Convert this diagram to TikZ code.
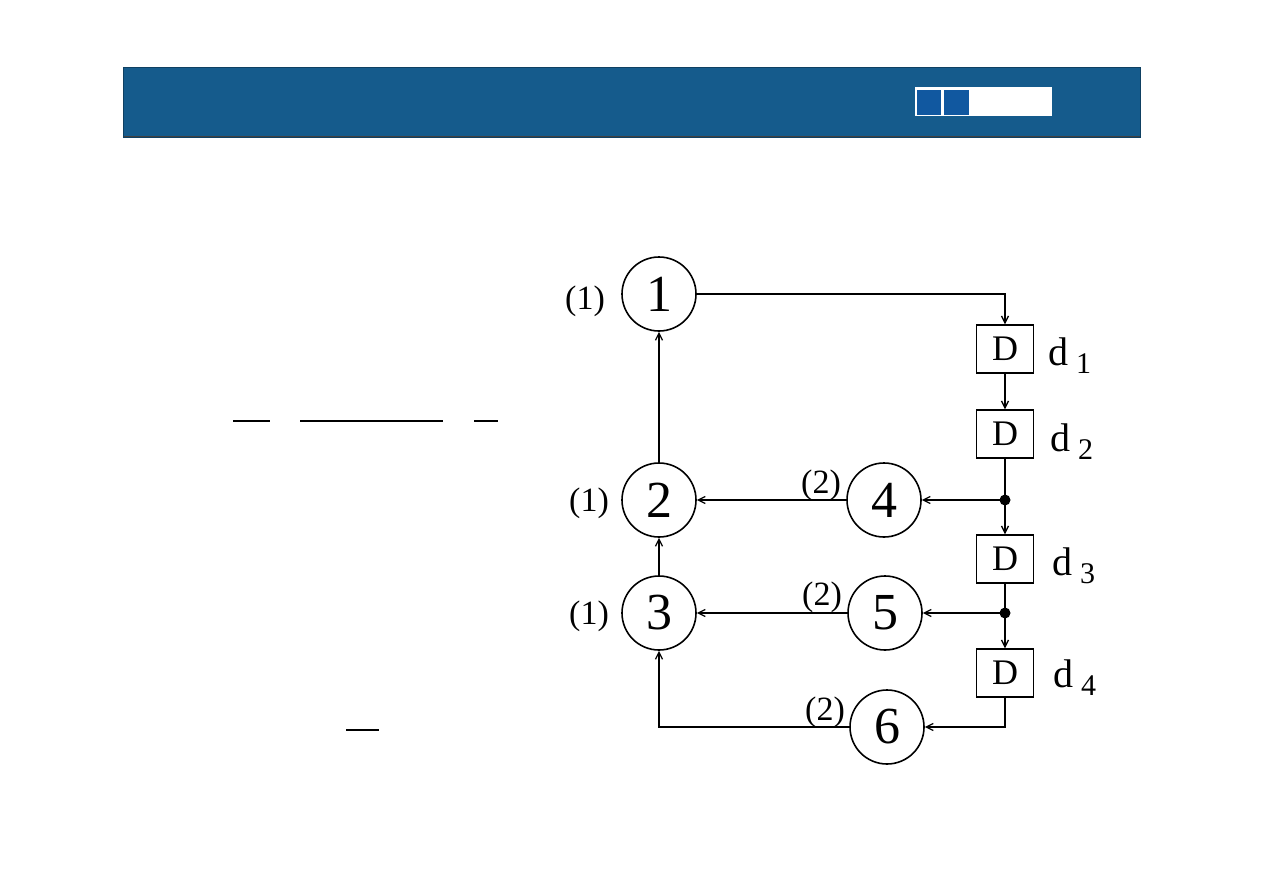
\documentclass[tikz,border=0pt]{standalone}
\usepackage{fontspec}
\setmainfont{Liberation Serif}
\usetikzlibrary{arrows.meta}
\definecolor{hdr}{HTML}{155B8C}
\definecolor{sq}{HTML}{1158A0}
\tikzset{
  num/.style={draw, circle, line width=1.6pt, minimum size=74pt, inner sep=0pt, font=\fontsize{52}{52}\selectfont},
  dbox/.style={draw, line width=1.3pt, minimum width=57pt, minimum height=48pt, inner sep=0pt, font=\fontsize{36}{36}\selectfont},
  lbl/.style={font=\fontsize{34}{34}\selectfont, inner sep=0pt},
  dl/.style={font=\fontsize{40}{40}\selectfont, inner sep=0pt, anchor=west},
  conn/.style={line width=1.3pt, -{Straight Barb[length=7pt,width=7pt]}},
  plain/.style={line width=1.3pt},
  dot/.style={circle, fill=black, minimum size=11pt, inner sep=0pt},
  frac/.style={line width=1.6pt}
}
\newcommand{\dlab}[1]{d\kern8pt\raisebox{-8pt}{\fontsize{30}{30}\selectfont #1}}
\begin{document}
\begin{tikzpicture}[x=1pt,y=-1pt]
\useasboundingbox (0,0) rectangle (1263,894);
\fill[white] (0,0) rectangle (1263,894);
% header
\fill[hdr] (123,67) rectangle (1140,137);
\draw[black!75, line width=1.5pt] (123,137) -- (1140,137);
\draw[hdr!70!black, line width=0.6pt] (123,67) rectangle (1140,137);
\fill[white] (915,87) rectangle (1052,116);
\fill[sq] (917,90) rectangle (941,115);
\fill[sq] (944,90) rectangle (969,115);
% fraction bars
\draw[frac] (233,421) -- (270,421);
\draw[frac] (300,421) -- (443,421);
\draw[frac] (474,421) -- (498,421);
\draw[frac] (346,730) -- (379,730);
% nodes
\node[num] (n1) at (659,294) {1};
\node[num] (n2) at (659,500) {2};
\node[num] (n3) at (659,613) {3};
\node[num] (n4) at (884,500) {4};
\node[num] (n5) at (885,613) {5};
\node[num] (n6) at (887,727) {6};
\node[dbox] (d1) at (1005,349) {D};
\node[dbox] (d2) at (1005,434) {D};
\node[dbox] (d3) at (1005,559) {D};
\node[dbox] (d4) at (1005,673) {D};
\node[dot] (p1) at (1005,500) {};
\node[dot] (p2) at (1005,613) {};
% labels
\node[lbl] (l1) at (585,301) {(1)};
\node[lbl] (l2) at (589,503) {(1)};
\node[lbl] (l3) at (589,616) {(1)};
\node[lbl] (l4) at (821,485) {(2)};
\node[lbl] (l5) at (822,597) {(2)};
\node[lbl] (l6) at (825,712) {(2)};
\node[dl] (t1) at (1048,356) {\dlab{1}};
\node[dl] (t2) at (1050,442) {\dlab{2}};
\node[dl] (t3) at (1052,566) {\dlab{3}};
\node[dl] (t4) at (1053,678) {\dlab{4}};
% connectors
\draw[conn] (n1.east) -| (d1.north);
\draw[conn] (d1.south) -- (d2.north);
\draw[plain] (d2.south) -- (p1.center);
\draw[conn] (p1.center) -- (d3.north);
\draw[conn] (p1.center) -- (n4.east);
\draw[plain] (d3.south) -- (p2.center);
\draw[conn] (p2.center) -- (d4.north);
\draw[conn] (p2.center) -- (n5.east);
\draw[conn] (d4.south) |- (n6.east);
\draw[conn] (n6.west) -| (n3.south);
\draw[conn] (n5.west) -- (n3.east);
\draw[conn] (n4.west) -- (n2.east);
\draw[conn] (n3.north) -- (n2.south);
\draw[conn] (n2.north) -- (n1.south);
\end{tikzpicture}
\end{document}
